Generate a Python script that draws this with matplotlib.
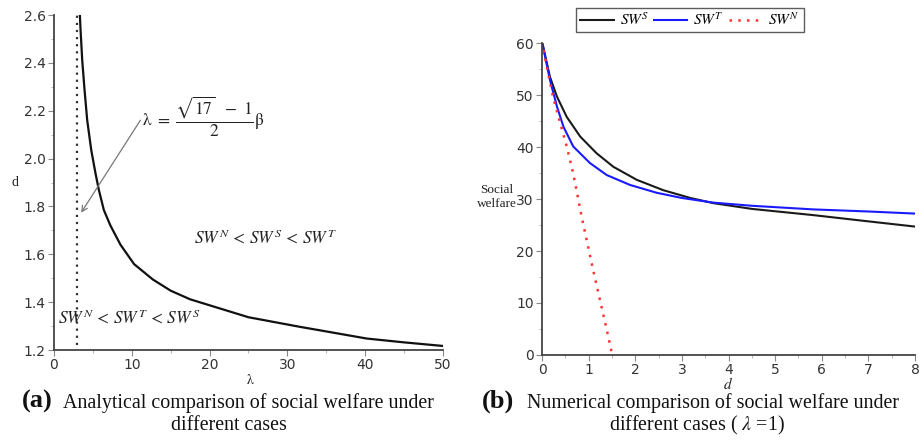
import numpy as np
import matplotlib
matplotlib.use("Agg")
import matplotlib.pyplot as plt
from matplotlib.ticker import MultipleLocator

plt.rcParams['mathtext.fontset'] = 'stix'

# ---------------- data: panel (a) ----------------
lam_curve = [3.3, 3.42, 3.63, 3.93, 4.27, 4.79, 5.34, 5.77, 6.41, 7.26, 8.55, 10.3,
             12.7, 15.0, 17.5, 20.1, 25.0, 31.6, 36.0, 40.2, 45.0, 50.0]
d_curve = [2.62, 2.537, 2.412, 2.287, 2.161, 2.036, 1.938, 1.869, 1.785, 1.72, 1.64, 1.559,
           1.495, 1.448, 1.412, 1.386, 1.337, 1.297, 1.272, 1.248, 1.232, 1.217]
lam_threshold = 3.0
d_threshold = [1.22, 2.6]

# ---------------- data: panel (b) ----------------
d_S = [0, 0.17, 0.32, 0.53, 0.82, 1.17, 1.53, 2.03, 2.6, 3.18, 3.68, 4.5, 5.82, 7.0, 8.0]
sw_S = [60.3, 53.5, 49.7, 45.8, 42.0, 38.8, 36.2, 33.7, 31.7, 30.2, 29.2, 28.1, 26.9, 25.7, 24.7]
d_T = [0, 0.17, 0.32, 0.46, 0.67, 1.03, 1.39, 1.89, 2.46, 3.0, 3.68, 4.5, 5.82, 7.0, 8.0]
sw_T = [60.3, 52.9, 47.8, 43.9, 40.1, 36.9, 34.6, 32.7, 31.2, 30.2, 29.3, 28.7, 28.0, 27.6, 27.2]
d_N = [0, 0.1, 0.24, 0.39, 0.53, 0.67, 0.85, 1.1, 1.39, 1.5]
sw_N = [60.3, 55.5, 49.5, 44.6, 40.1, 34.9, 26.6, 16.2, 4.8, 0.3]

fig = plt.figure(figsize=(9.21, 4.40), dpi=100)

spine_col = '#444444'
tick_col = '#333333'


def style_axes(ax):
    for s in ['top', 'right']:
        ax.spines[s].set_visible(False)
    for s in ['left', 'bottom']:
        ax.spines[s].set_color(spine_col)
        ax.spines[s].set_linewidth(1.3)
    ax.tick_params(which='major', direction='out', length=4, width=0.8,
                   color='#888888', labelcolor=tick_col, labelsize=10, pad=2)
    ax.tick_params(which='minor', direction='out', length=2.5, width=0.6,
                   color='#aaaaaa')


# ---------------- panel (a) ----------------
axa = fig.add_axes([0.0586, 0.2045, 0.4223, 0.7614])
axa.plot(lam_curve, d_curve, color='#111111', lw=1.6)
axa.plot([lam_threshold, lam_threshold], d_threshold, color='#333333', lw=1.6,
         linestyle=(0, (1, 2.2)))
axa.set_xlim(0, 50)
axa.set_ylim(1.2, 2.6)
axa.xaxis.set_major_locator(MultipleLocator(10))
axa.xaxis.set_minor_locator(MultipleLocator(5))
axa.yaxis.set_major_locator(MultipleLocator(0.2))
axa.yaxis.set_minor_locator(MultipleLocator(0.1))
style_axes(axa)
axa.set_yticklabels([f'{v:.1f}' for v in axa.get_yticks()])

axa.annotate('', xy=(3.3, 1.764), xytext=(11.3, 2.17),
             arrowprops=dict(arrowstyle='->', color='#777777', lw=0.9))
axa.text(11.3, 2.175, r'$\mathrm{\lambda}\ =\ \dfrac{\sqrt{17}\ \ -\ 1}{2}\mathrm{\beta}$',
         fontsize=12.5, ha='left', va='center', color='#222222')
axa.text(18.0, 1.668, r'$SW^{N}\,<\,SW^{S}\,<\,SW^{T}$', fontsize=12.5,
         ha='left', va='center', color='#222222')
axa.text(0.5, 1.334, r'$SW^{N}\,<\,SW^{T}\,<\,SW^{S}$', fontsize=12.5,
         ha='left', va='center', color='#222222')

fig.text(15 / 921, 1 - 182 / 440, 'd', fontsize=10, family='Liberation Serif',
         ha='center', va='center', color='#222222')
fig.text(250 / 921, 1 - 380 / 440, r'$\mathrm{\lambda}$', fontsize=10,
         ha='center', va='center', color='#222222')

# ---------------- panel (b) ----------------
axb = fig.add_axes([0.5885, 0.1932, 0.405, 0.709])
axb.plot(d_S, sw_S, color='#1a1a1a', lw=1.5, label=r'$SW^{S}$')
axb.plot(d_T, sw_T, color='#1a1aff', lw=1.5, label=r'$SW^{T}$')
axb.plot(d_N, sw_N, color='#ff3333', lw=1.8, linestyle=(0, (1, 2.5)), label=r'$SW^{N}$')
axb.set_xlim(0, 8)
axb.set_ylim(0, 60)
axb.xaxis.set_major_locator(MultipleLocator(1))
axb.xaxis.set_minor_locator(MultipleLocator(0.5))
axb.yaxis.set_major_locator(MultipleLocator(10))
axb.yaxis.set_minor_locator(MultipleLocator(5))
style_axes(axb)

leg = fig.legend(loc='center', bbox_to_anchor=(690 / 921, 1 - 20 / 440), ncol=3,
                 fontsize=11, frameon=True, fancybox=False, edgecolor='#333333',
                 handlelength=2.2, columnspacing=0.3, handletextpad=0.4,
                 borderpad=0.25, borderaxespad=0)
leg.get_frame().set_linewidth(1.0)

fig.text(497 / 921, 1 - 197 / 440, 'Social\nwelfare', fontsize=9.5,
         family='Liberation Serif', ha='center', va='center', color='#222222',
         linespacing=1.3)
fig.text(728 / 921, 1 - 384 / 440, r'$d$', fontsize=11,
         ha='center', va='center', color='#222222')

# ---------------- captions ----------------
cap_kw = dict(family='Liberation Serif', color='#111111', va='center')
fig.text(22 / 921, 1 - 401 / 440, '(a)', fontsize=19, fontweight='bold', ha='left', **cap_kw)
fig.text(63 / 921, 1 - 403 / 440, 'Analytical comparison of social welfare under',
         fontsize=14.4, ha='left', **cap_kw)
fig.text(229 / 921, 1 - 425 / 440, 'different cases', fontsize=14.4, ha='center', **cap_kw)

fig.text(482 / 921, 1 - 401 / 440, '(b)', fontsize=19, fontweight='bold', ha='left', **cap_kw)
fig.text(527 / 921, 1 - 403 / 440, 'Numerical comparison of social welfare under',
         fontsize=14.4, ha='left', **cap_kw)
fig.text(697 / 921, 1 - 425 / 440, r'different cases ( $\lambda$ =1)', fontsize=14.4,
         ha='center', **cap_kw)

fig.savefig('out.png', dpi=100)
